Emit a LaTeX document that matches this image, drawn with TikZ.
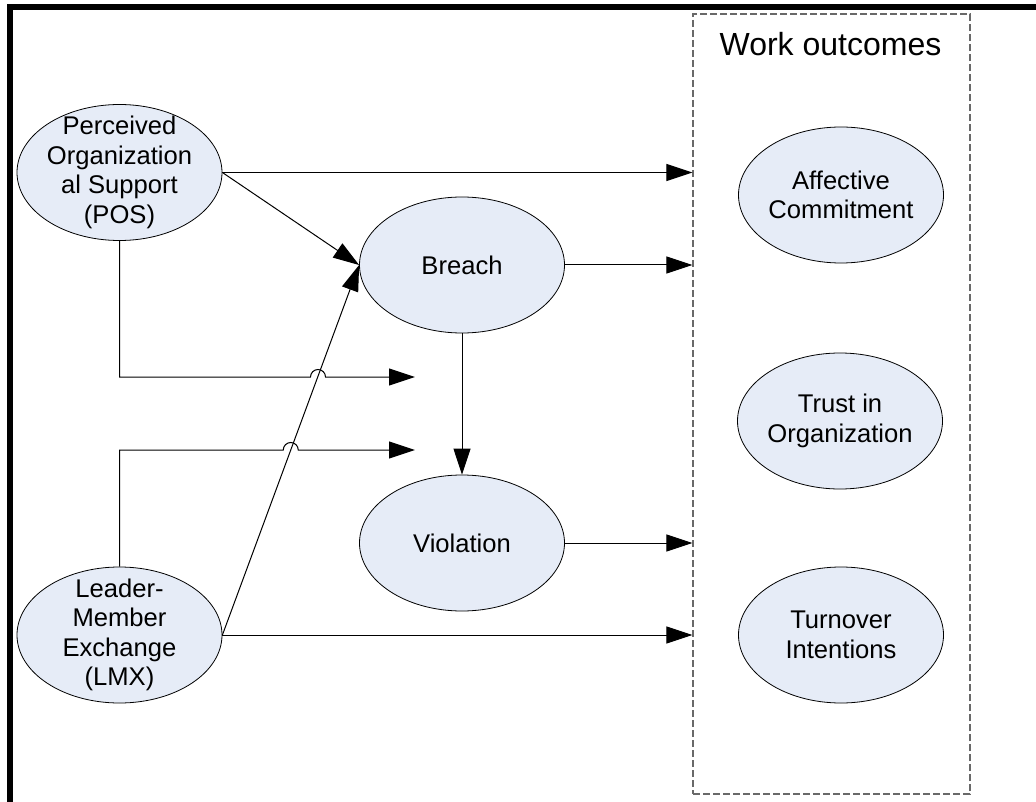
\documentclass[tikz,border=0pt]{standalone}
\usepackage{fontspec}
\setmainfont{Liberation Sans}
\usetikzlibrary{shapes.geometric,arrows.meta,calc}
\definecolor{ovalfill}{RGB}{230,236,247}
\definecolor{boxgray}{RGB}{105,105,105}
\begin{document}
\begin{tikzpicture}[x=1pt,y=-1pt,
  oval/.style={ellipse, draw=black, line width=0.8pt, fill=ovalfill,
    minimum width=205pt, minimum height=136pt, inner sep=0pt},
  ovaltext/.style={align=center, inner sep=0pt,
    font=\fontsize{25.6pt}{29.5pt}\selectfont},
  link/.style={draw=black, line width=1pt, -{Triangle[length=26pt,width=17pt]}},
  groupbox/.style={draw=boxgray, dash pattern=on 7pt off 3pt, line width=1.3pt,
    minimum width=277pt, minimum height=780pt, inner sep=0pt}]
\useasboundingbox (0,0) rectangle (1036,802);
\clip (0,0) rectangle (1036,802);
\fill[white] (0,0) rectangle (1036,802);

% heavy frame along the top and left edges
\draw[line width=6pt, line join=miter] (10,830) -- (10,7) -- (1060,7);

% outcome group
\node[groupbox] (outcomes) at (831.5,404) {};
\node[font=\fontsize{32pt}{38pt}\selectfont, anchor=base, inner sep=0pt]
  (outcomes-title) at (830.5,56) {Work outcomes};

% constructs
\node[oval] (pos) at (119.5,172.5) {};
\node[ovaltext] (pos-text) at (pos) {Perceived\\Organization\\al Support\\(POS)};
\node[oval] (lmx) at (119.5,635) {};
\node[ovaltext] (lmx-text) at (lmx) {Leader-\\Member\\Exchange\\(LMX)};
\node[oval] (breach) at (462,265) {};
\node[ovaltext] (breach-text) at (breach) {Breach};
\node[oval] (violation) at (462,543) {};
\node[ovaltext] (violation-text) at (violation) {Violation};
\node[oval] (affective) at (841,195) {};
\node[ovaltext] (affective-text) at (affective) {Affective\\Commitment};
\node[oval] (trust) at (840,421) {};
\node[ovaltext] (trust-text) at (trust) {Trust in\\Organization};
\node[oval] (turnover) at (841,635) {};
\node[ovaltext] (turnover-text) at (turnover) {Turnover\\Intentions};

% moderating paths with line hops
\coordinate (posend) at (415,377);
\coordinate (lmxend) at (415,450);
\draw[link] (pos.south) -- (pos.south |- posend) -- (310.5,377)
  arc[start angle=180, end angle=0, radius=7.5pt] -- (posend);
\draw[link] (lmx.north) -- (lmx.north |- lmxend) -- (283.25,450)
  arc[start angle=180, end angle=0, radius=7.5pt] -- (lmxend);

% direct paths
\draw[link] (pos.east) -- (breach.west);
\draw[link] (lmx.east) -- (breach.west);
\draw[link] (pos.east) -- (pos.east -| outcomes.west);
\draw[link] (breach.east) -- (breach.east -| outcomes.west);
\draw[link] (breach.south) -- (violation.north);
\draw[link] (violation.east) -- (violation.east -| outcomes.west);
\draw[link] (lmx.east) -- (lmx.east -| outcomes.west);
\end{tikzpicture}
\end{document}
